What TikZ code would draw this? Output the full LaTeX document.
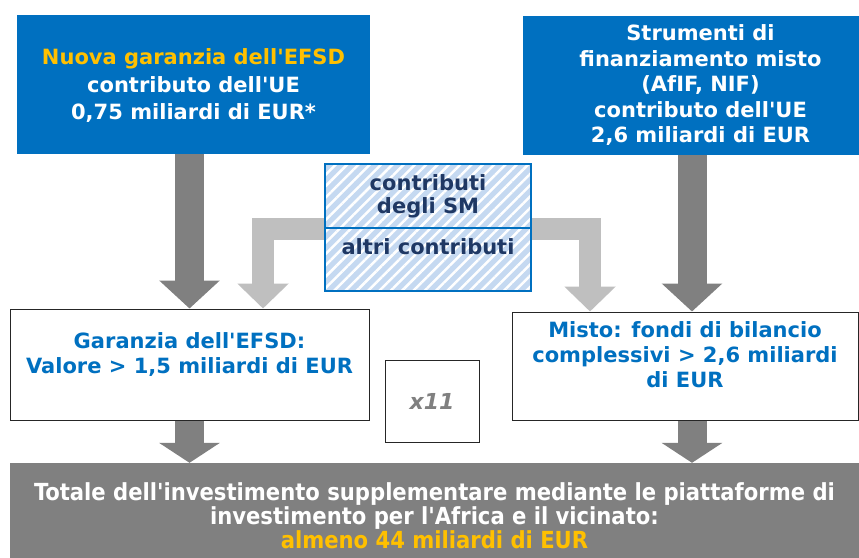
\documentclass[tikz,border=0pt]{standalone}
\usepackage{fontspec}
\newfontfamily\boxfont{DejaVu Sans}
\newfontfamily\condfont{DejaVu Sans Condensed}
\usetikzlibrary{arrows.meta, positioning, patterns.meta}
\definecolor{eublue}{RGB}{0,112,192}
\definecolor{euyellow}{RGB}{255,192,0}
\definecolor{navy}{RGB}{31,56,100}
\definecolor{hatchblue}{RGB}{197,217,241}
\definecolor{darkgrey}{RGB}{128,128,128}
\definecolor{lightgrey}{RGB}{191,191,191}
\tikzstyle{source} = [rectangle, fill=eublue, text=white, inner sep=0pt, align=center, font=\boxfont\bfseries\fontsize{21}{26}\selectfont]
\tikzstyle{result} = [rectangle, draw=black!85, line width=1pt, fill=white, text=eublue, inner sep=0pt, align=center, font=\boxfont\bfseries\fontsize{21}{25}\selectfont]
\tikzstyle{hatched} = [rectangle, draw=eublue, line width=2pt, preaction={fill=hatchblue}, pattern={Lines[angle=45, distance=8pt, line width=2.5pt]}, pattern color=white, text=navy, inner sep=0pt, minimum width=206pt, align=center, font=\boxfont\bfseries\fontsize{21}{23}\selectfont]
\tikzstyle{factor} = [rectangle, draw=black!85, line width=1pt, fill=white, text=darkgrey, minimum width=94pt, minimum height=82pt, font=\boxfont\bfseries\itshape\fontsize{22}{24}\selectfont]
\tikzstyle{total} = [rectangle, fill=darkgrey, text=white, inner sep=0pt, align=center, font=\condfont\bfseries\fontsize{23.5}{24}\selectfont]
\tikzstyle{bigarrow} = [draw=darkgrey, line width=29pt, -{Triangle[width=59pt, length=28pt]}]
\tikzstyle{sidearrow} = [draw=lightgrey, line width=22pt, -{Triangle[width=50pt, length=25pt]}]
\tikzstyle{downarrow} = [draw=darkgrey, line width=29pt, -{Triangle[width=60pt, length=20pt]}]

\begin{document}
\begin{tikzpicture}[x=1pt, y=-1pt]
	\useasboundingbox[fill=white] (0,0) rectangle (859,557);
	\node (Nuova) [source, minimum width=353pt, minimum height=139pt, text depth=0pt] at (193.5,84.5) {{\color{euyellow}Nuova garanzia dell'EFSD}\\[1.5pt]contributo dell'UE\\[1.5pt]0,75 miliardi di EUR*};
	\node (Strumenti) [source, minimum width=355pt, minimum height=139pt, font=\boxfont\bfseries\fontsize{21}{25.5}\selectfont] at (700.5,85.5) {Strumenti di\\finanziamento misto\\(AfIF, NIF)\\contributo dell'UE\\2,6 miliardi di EUR};
	\node (SM) [hatched, minimum height=64pt] at (428,196) {contributi\\degli SM};
	\node (Altri) [hatched, minimum height=63pt, text depth=26pt] at (428,259.5) {altri contributi};
	\node (Garanzia) [result, minimum width=359pt, minimum height=111pt, text depth=23pt] at (189.5,364.5) {Garanzia dell'EFSD:\\Valore > 1,5 miliardi di EUR};
	\node (Misto) [result, minimum width=346pt, minimum height=108pt, text depth=22pt] at (685,366) {Misto: fondi di bilancio\\complessivi > 2,6 miliardi\\di EUR};
	\node (Fattore) [factor] at (432,401) {x11};
	\node (Totale) [total, minimum width=849pt, minimum height=106pt] at (434.5,516) {Totale dell'investimento supplementare mediante le piattaforme di\\investimento per l'Africa e il vicinato:\\{\color{euyellow}almeno 44 miliardi di EUR}};
	\draw [bigarrow] (Garanzia.north |- Nuova.south) -- (Garanzia.north);
	\draw [bigarrow] ([xshift=7pt]Misto.north |- Strumenti.south) -- ([xshift=7pt]Misto.north);
	\draw [sidearrow] (SM.south west) -| ([xshift=73.5pt]Garanzia.north);
	\draw [sidearrow] (SM.south east) -| ([xshift=-95pt]Misto.north);
	\draw [downarrow] (Garanzia.south) -- (Garanzia.south |- Totale.north);
	\draw [downarrow] ([xshift=7pt]Misto.south) -- ([xshift=7pt]Misto.south |- Totale.north);
\end{tikzpicture}
\end{document}
